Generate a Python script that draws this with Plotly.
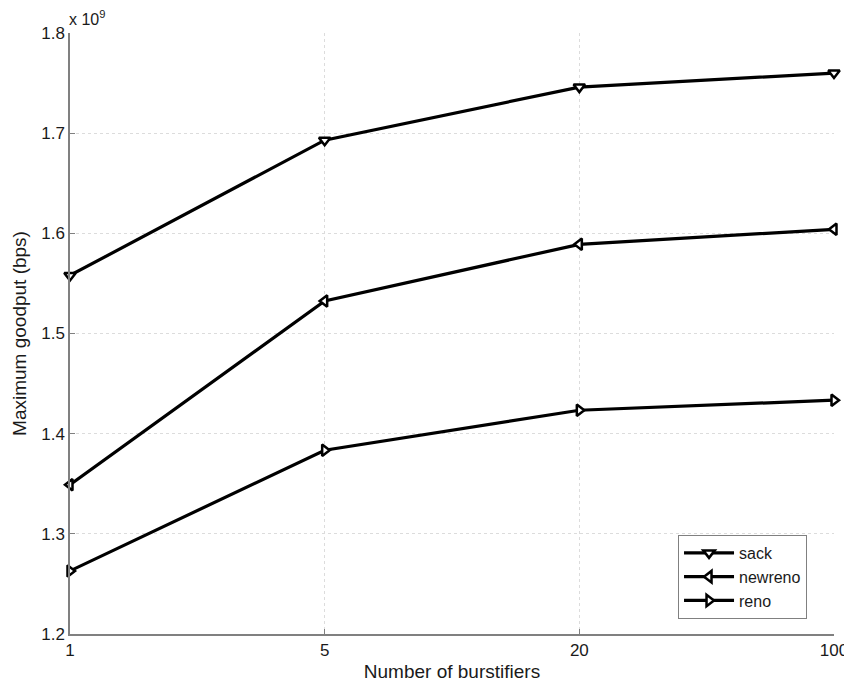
import plotly.graph_objects as go

categories = ["1", "5", "20", "100"]
sack = [1.558, 1.693, 1.746, 1.760]
newreno = [1.349, 1.5325, 1.589, 1.604]
reno = [1.263, 1.3835, 1.4234, 1.4334]
y_ticks = [1.2, 1.3, 1.4, 1.5, 1.6, 1.7, 1.8]

series = [("sack", sack, "triangle-down"),
          ("newreno", newreno, "triangle-left"),
          ("reno", reno, "triangle-right")]

xidx = list(range(len(categories)))
fig = go.Figure()
for name, vals, sym in series:
    fig.add_trace(go.Scatter(
        x=xidx, y=vals, name=name, mode="lines+markers",
        line=dict(color="black", width=3.2),
        marker=dict(symbol=sym, size=10, color="white",
                    line=dict(color="black", width=2.5)),
        cliponaxis=False,
    ))

axis_common = dict(showline=True, linecolor="#808080", linewidth=1.5,
                   ticks="inside", ticklen=5, tickcolor="#808080",
                   showgrid=True, gridcolor="#dcdcdc", griddash="dot",
                   gridwidth=1, zeroline=False, automargin=False,
                   tickfont=dict(size=17, color="#1a1a1a"))

fig.update_xaxes(range=[0, 3], tickvals=xidx, ticktext=categories,
                 title=dict(text="Number of burstifiers", font=dict(size=19, color="#1a1a1a"),
                            standoff=6),
                 **axis_common)
fig.update_yaxes(range=[1.2, 1.8], tickvals=y_ticks,
                 ticktext=[f"{v:.1f}" for v in y_ticks],
                 title=dict(text="Maximum goodput (bps)", font=dict(size=19, color="#1a1a1a"),
                            standoff=10),
                 **axis_common)

fig.add_annotation(text="x 10<sup>9</sup>", xref="paper", yref="paper",
                   x=0, y=1, xanchor="left", yanchor="bottom", showarrow=False,
                   font=dict(size=16, color="#1a1a1a"), xshift=-3, yshift=3)

fig.update_layout(
    width=852, height=687,
    margin=dict(l=62, r=26, t=25, b=61),
    paper_bgcolor="white", plot_bgcolor="white",
    font=dict(family="Liberation Sans, Arial, sans-serif", color="#1a1a1a"),
    legend=dict(x=0.9647, y=0.025, xanchor="right", yanchor="bottom",
                bordercolor="#808080", borderwidth=1, bgcolor="white",
                font=dict(size=16), tracegroupgap=0, itemwidth=50),
    showlegend=True,
)

fig.write_html("out.html")
